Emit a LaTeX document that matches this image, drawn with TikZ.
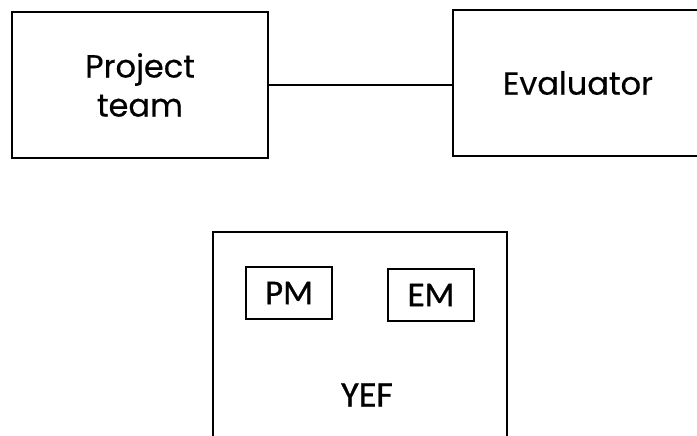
\documentclass[tikz,border=0pt]{standalone}
\usepackage{fontspec}
\setmainfont{Poppins}[FakeBold=0.4,AutoFakeBold=0.4]
\newfontfamily\memberfont{Carlito}[FakeBold=0.8,AutoFakeBold=0.8]
\usepackage{tikz}
\usetikzlibrary{positioning}

\begin{document}
\begin{tikzpicture}[
  x=1pt, y=-1pt,
  party/.style={
    draw, line width=2.6pt,
    minimum width=256pt, minimum height=146pt,
    font=\bfseries\fontsize{32}{39}\selectfont, align=center
  },
  forum/.style={
    draw, line width=2.4pt,
    minimum width=294pt, minimum height=240pt
  },
  member/.style={
    draw, line width=2.2pt,
    minimum width=86pt, minimum height=52pt,
    font=\memberfont\bfseries\fontsize{35}{38}\selectfont
  },
  link/.style={line width=2.4pt}
]
  \clip (0,0) rectangle (697,436);

  % ── Top parties ──
  \node[party] (team) at (140,85) {Project\\team};
  \node[party, minimum width=250pt] (eval) at (578,83) {Evaluator};

  % ── Link between them ──
  \draw[link] (team.east) -- (team.east -| eval.west);

  % ── YEF box with its members ──
  \node[forum] (yef) at (360,352) {};
  \node[member] (pm) at (289,293) {PM};
  \node[member] (em) at (431,295) {EM};
  \node[font=\memberfont\bfseries\fontsize{36}{40}\selectfont] (yeflbl) at (367,395) {YEF};

\end{tikzpicture}
\end{document}
